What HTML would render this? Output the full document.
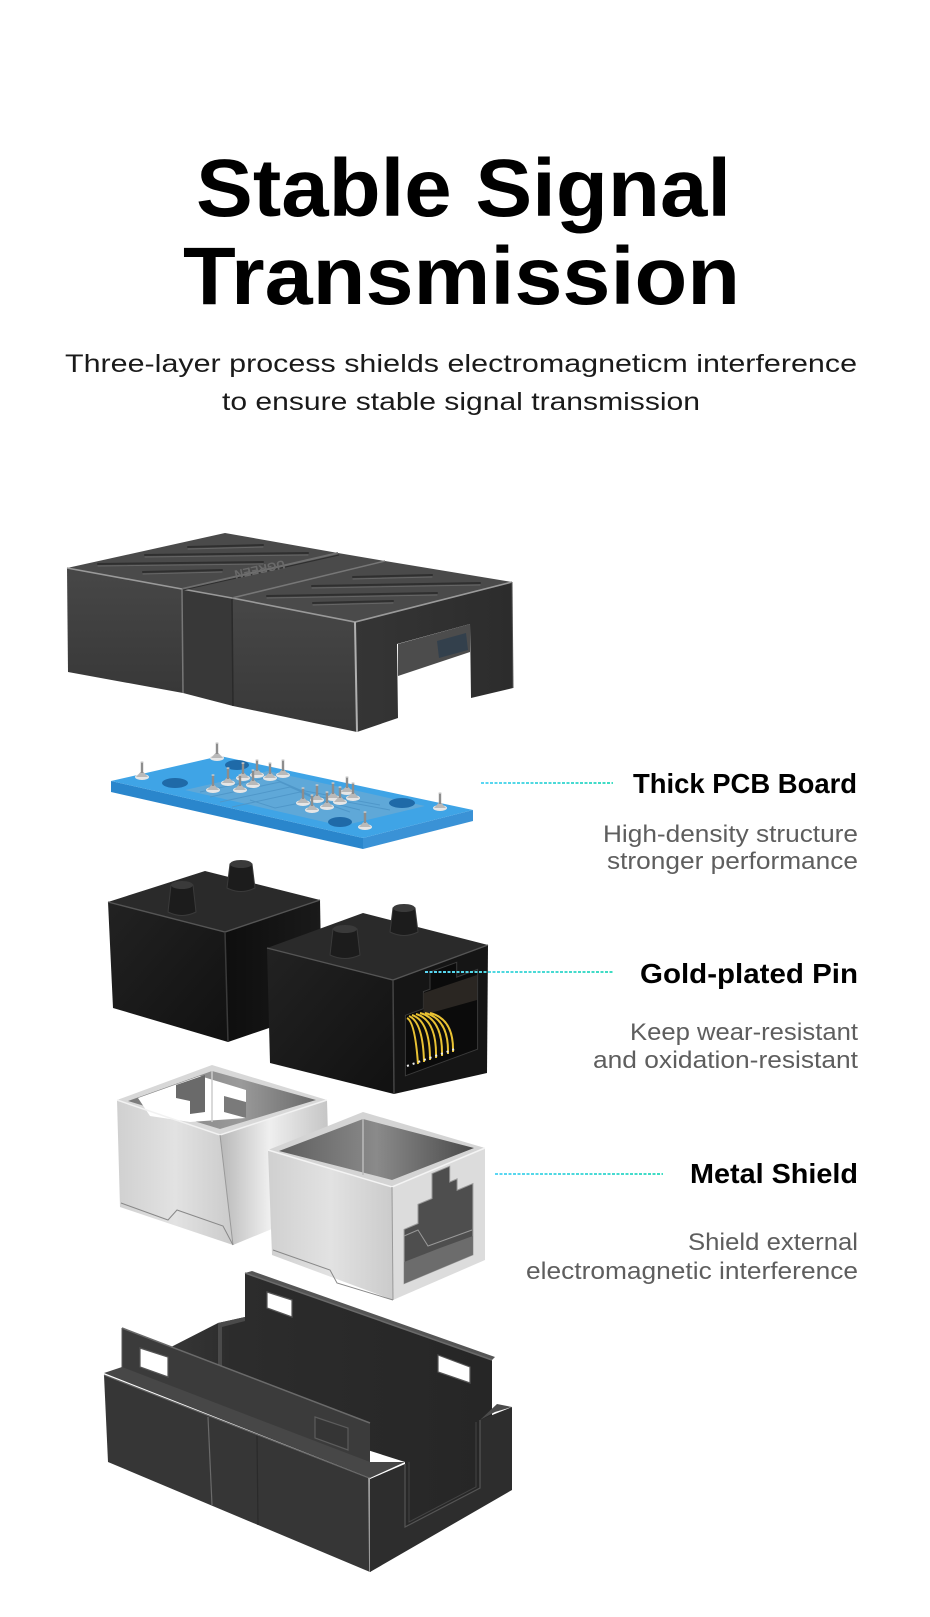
<!DOCTYPE html>
<html><head><meta charset="utf-8"><style>
html,body{margin:0;padding:0;background:#fff;}
svg{display:block;}
</style></head><body>
<svg width="930" height="1617" viewBox="0 0 930 1617" xmlns="http://www.w3.org/2000/svg">
<defs>
<linearGradient id="tcF" x1="0" y1="0" x2="0" y2="1"><stop offset="0" stop-color="#474747"/><stop offset="1" stop-color="#383838"/></linearGradient>
<linearGradient id="tcE" x1="0" y1="0" x2="1" y2="0"><stop offset="0" stop-color="#353535"/><stop offset="1" stop-color="#2c2c2c"/></linearGradient>
<linearGradient id="bkF" x1="0" y1="0" x2="1" y2="1"><stop offset="0" stop-color="#222"/><stop offset="1" stop-color="#111"/></linearGradient>
<linearGradient id="bkR" x1="0" y1="0" x2="1" y2="0"><stop offset="0" stop-color="#0e0e0e"/><stop offset="1" stop-color="#1a1a1a"/></linearGradient>
<linearGradient id="mL" x1="0" y1="0" x2="1" y2="0"><stop offset="0" stop-color="#d0d0d0"/><stop offset=".5" stop-color="#e2e2e2"/><stop offset="1" stop-color="#cbcbcb"/></linearGradient>
<linearGradient id="mR" x1="0" y1="0" x2="1" y2="0"><stop offset="0" stop-color="#b8b8b8"/><stop offset=".45" stop-color="#efefef"/><stop offset="1" stop-color="#c4c4c4"/></linearGradient>
<linearGradient id="mIn" x1="0" y1="0" x2="1" y2="0"><stop offset="0" stop-color="#7a7a7a"/><stop offset=".6" stop-color="#9a9a9a"/><stop offset="1" stop-color="#6a6a6a"/></linearGradient>
<linearGradient id="mIn2" x1="0" y1="0" x2="1" y2="0"><stop offset="0" stop-color="#5e5e5e"/><stop offset=".5" stop-color="#8a8a8a"/><stop offset="1" stop-color="#4a4a4a"/></linearGradient>
<linearGradient id="bcIn" x1="0" y1="0" x2="1" y2="0"><stop offset="0" stop-color="#3e3e3e"/><stop offset=".3" stop-color="#2c2c2c"/><stop offset="1" stop-color="#262626"/></linearGradient>
<linearGradient id="d1" gradientUnits="userSpaceOnUse" x1="481" y1="0" x2="613" y2="0"><stop offset="0" stop-color="#5ad6f4"/><stop offset="1" stop-color="#3edcc2"/></linearGradient>
<linearGradient id="d2" gradientUnits="userSpaceOnUse" x1="425" y1="0" x2="613" y2="0"><stop offset="0" stop-color="#5ad6f4"/><stop offset="1" stop-color="#3edcc2"/></linearGradient>
<linearGradient id="d3" gradientUnits="userSpaceOnUse" x1="495" y1="0" x2="663" y2="0"><stop offset="0" stop-color="#5ad6f4"/><stop offset="1" stop-color="#3edcc2"/></linearGradient>
<g id="pin">
<ellipse cx="0" cy="0" rx="7" ry="3" fill="#e6e6e6"/>
<path d="M-6,0 L-1.5,-5 L1.5,-5 L6,0 Z" fill="#b9b9b9"/>
<rect x="-1.2" y="-15" width="2.4" height="11" fill="#8d8d8d"/>
<ellipse cx="0" cy="-15" rx="1.6" ry="0.8" fill="#cfcfcf"/>
</g>
</defs>

<rect width="930" height="1617" fill="#fff"/>

<!-- Title -->
<text x="196" y="216" font-family="Liberation Sans, sans-serif" font-weight="bold" font-size="82" textLength="535" lengthAdjust="spacingAndGlyphs" fill="#000">Stable Signal</text>
<text x="183" y="304" font-family="Liberation Sans, sans-serif" font-weight="bold" font-size="82" textLength="557" lengthAdjust="spacingAndGlyphs" fill="#000">Transmission</text>
<text x="65" y="372" font-family="Liberation Sans, sans-serif" font-size="25" textLength="792" lengthAdjust="spacingAndGlyphs" fill="#1a1a1a">Three-layer process shields electromagneticm interference</text>
<text x="222" y="410" font-family="Liberation Sans, sans-serif" font-size="25" textLength="478" lengthAdjust="spacingAndGlyphs" fill="#1a1a1a">to ensure stable signal transmission</text>

<!-- ===== Top case ===== -->
<polygon points="67,568 225,533 338,553 385,561 512,582 355,622 232,598 182,589" fill="#4a4a4a"/>
<polygon points="67,568 182,589 183,693 68,672" fill="url(#tcF)"/>
<polygon points="182,589 232,598 233,706 183,693" fill="#383838"/>
<polygon points="232,598 355,622 357,732 233,706" fill="url(#tcF)"/>
<polygon points="355,622 512,582 513,688 471,698 470,624 397,644 398,718 357,732" fill="url(#tcE)"/>
<polygon points="398,644 470,624 470,652 398,676" fill="#4c4c4c"/>
<polygon points="437,641 466,633 468,650 439,658" fill="#33404c"/>
<polyline points="67,568 182,589 232,598 355,622 512,582" fill="none" stroke="#9a9a9a" stroke-width="1.6"/>
<line x1="182" y1="589" x2="338" y2="553" stroke="#6e6e6e" stroke-width="2"/>
<line x1="183" y1="590" x2="339" y2="555" stroke="#2e2e2e" stroke-width="1"/>
<line x1="232" y1="598" x2="385" y2="561" stroke="#777" stroke-width="1.5"/>
<line x1="182" y1="590" x2="183" y2="693" stroke="#777" stroke-width="1.5"/>
<line x1="232" y1="599" x2="233" y2="706" stroke="#2a2a2a" stroke-width="1.5"/>
<line x1="355" y1="622" x2="357" y2="732" stroke="#b0b0b0" stroke-width="2"/>
<line x1="512" y1="582" x2="513" y2="688" stroke="#555" stroke-width="1"/>
<g stroke="#2f2f2f" stroke-width="2" stroke-linecap="round">
<line x1="188" y1="547" x2="263" y2="545"/><line x1="145" y1="555" x2="308" y2="553"/>
<line x1="98" y1="564" x2="263" y2="562"/><line x1="143" y1="572" x2="222" y2="570"/>
<line x1="353" y1="577" x2="432" y2="575"/><line x1="312" y1="586" x2="480" y2="583"/>
<line x1="267" y1="596" x2="437" y2="593"/><line x1="313" y1="603" x2="393" y2="601"/>
</g>
<g stroke="#666" stroke-width="1" stroke-linecap="round">
<line x1="188" y1="549" x2="263" y2="547"/><line x1="145" y1="557" x2="308" y2="555"/>
<line x1="98" y1="566" x2="263" y2="564"/><line x1="143" y1="574" x2="222" y2="572"/>
<line x1="353" y1="579" x2="432" y2="577"/><line x1="312" y1="588" x2="480" y2="585"/>
<line x1="267" y1="598" x2="437" y2="595"/><line x1="313" y1="605" x2="393" y2="603"/>
</g>
<text x="0" y="0" transform="translate(284,560) rotate(168)" font-family="Liberation Sans, sans-serif" font-weight="bold" font-size="12" fill="#6a6a6a">UGREEN</text>

<!-- ===== PCB ===== -->
<polygon points="111,781 363,838 363,849 111,792" fill="#2a86cc"/>
<polygon points="363,838 473,810 473,821 363,849" fill="#3a92d6"/>
<polygon points="111,781 220,756 473,810 363,838" fill="#3fa4e6"/>
<polygon points="185,790 268,771 425,806 342,826" fill="#5fa8d8"/>
<g stroke="#4f97c9" stroke-width="1" fill="none">
<path d="M200,792 L270,777 L300,790 L380,805"/><path d="M210,797 L280,782 L310,795 L390,810"/>
<path d="M220,802 L290,787 L320,800 L360,810"/><path d="M232,807 L300,792 L330,805 L350,812"/>
<path d="M250,800 L275,808 L305,802"/>
</g>
<g fill="#1f6aa8">
<ellipse cx="175" cy="783" rx="13" ry="5"/><ellipse cx="237" cy="765" rx="12" ry="5"/>
<ellipse cx="402" cy="803" rx="13" ry="5"/><ellipse cx="340" cy="822" rx="12" ry="5"/>
</g>
<use href="#pin" x="142" y="777"/><use href="#pin" x="217" y="758"/>
<use href="#pin" x="440" y="808"/><use href="#pin" x="365" y="827"/>
<use href="#pin" x="257" y="775"/><use href="#pin" x="283" y="775"/>
<use href="#pin" x="243" y="778"/><use href="#pin" x="270" y="778"/>
<use href="#pin" x="228" y="783"/><use href="#pin" x="253" y="785"/>
<use href="#pin" x="213" y="790"/><use href="#pin" x="240" y="790"/>
<use href="#pin" x="347" y="792"/><use href="#pin" x="333" y="798"/>
<use href="#pin" x="353" y="798"/><use href="#pin" x="317" y="800"/>
<use href="#pin" x="340" y="802"/><use href="#pin" x="303" y="803"/>
<use href="#pin" x="327" y="807"/><use href="#pin" x="312" y="810"/>

<!-- ===== Black blocks ===== -->
<!-- left -->
<polygon points="108,902 225,932 228,1042 113,1008" fill="url(#bkF)"/>
<polygon points="225,932 320,900 322,1010 228,1042" fill="url(#bkR)"/>
<polygon points="108,902 205,871 320,900 225,932" fill="#2a2a2a"/>
<polyline points="108,902 225,932 320,900" fill="none" stroke="#555" stroke-width="1.4"/>
<line x1="225" y1="932" x2="228" y2="1042" stroke="#3a3a3a" stroke-width="1.5"/>
<path d="M168,912 L171,885 Q182,879 193,885 L196,912 Q182,919 168,912 Z" fill="#1c1c1c" stroke="#3a3a3a" stroke-width="1"/>
<ellipse cx="182" cy="885" rx="11" ry="4" fill="#3a3a3a"/>
<path d="M227,888 L230,864 Q241,858 252,864 L255,888 Q241,895 227,888 Z" fill="#1c1c1c" stroke="#3a3a3a" stroke-width="1"/>
<ellipse cx="241" cy="864" rx="11" ry="4" fill="#3a3a3a"/>
<!-- right -->
<polygon points="267,948 393,980 394,1094 270,1063" fill="url(#bkF)"/>
<polygon points="393,980 488,945 487,1073 394,1094" fill="#151515"/>
<polygon points="267,948 363,913 488,945 393,980" fill="#2a2a2a"/>
<polyline points="267,948 393,980 488,945" fill="none" stroke="#555" stroke-width="1.4"/>
<line x1="393" y1="980" x2="394" y2="1094" stroke="#444" stroke-width="1.5"/>
<polygon points="430,972 456.7,962.3 456.7,977.1 477.6,969.4 477.6,1049.2 405.4,1075.8 405.4,1015.3 423.4,1008.7 423.4,991.6 430,989.2" fill="#0b0b0b" stroke="#3a3a3a" stroke-width="1"/>
<polygon points="423.4,993 477,975 477,1000 423.4,1015" fill="#2a2622"/>
<g stroke="#e9c233" stroke-width="2" fill="none">
<path d="M407,1018 Q415,1022 418,1064"/><path d="M409,1016 Q423,1022 424,1062"/>
<path d="M412,1015 Q430,1021 430,1060"/><path d="M416,1014 Q437,1020 436,1058"/>
<path d="M420,1013 Q443,1019 442,1056"/><path d="M425,1013 Q449,1019 448,1054"/>
<path d="M430,1013 Q454,1019 453,1052"/>
</g>
<path d="M407,1066 L455,1049" stroke="#eee" stroke-width="2" stroke-dasharray="2 4"/>
<path d="M330,955 L333,929 Q345,923 357,929 L360,955 Q345,962 330,955 Z" fill="#1c1c1c" stroke="#3a3a3a" stroke-width="1"/>
<ellipse cx="345" cy="929" rx="12" ry="4" fill="#3a3a3a"/>
<path d="M390,932 L393,908 Q404,902 415,908 L418,932 Q404,939 390,932 Z" fill="#1c1c1c" stroke="#3a3a3a" stroke-width="1"/>
<ellipse cx="404" cy="908" rx="11" ry="4" fill="#3a3a3a"/>

<!-- ===== Metal shields ===== -->
<!-- left -->
<polygon points="117,1100 220,1135 233,1245 120,1207" fill="url(#mL)"/>
<polygon points="220,1135 327,1100 330,1205 233,1245" fill="url(#mR)"/>
<polygon points="117,1100 212,1065 327,1100 220,1135" fill="#d8d8d8"/>
<polygon points="128,1101 212,1071 316,1100 220,1129" fill="url(#mIn)"/>
<polygon points="138,1098 200,1076 246,1090 246,1118 190,1122 150,1116" fill="#fff"/>
<polygon points="176,1085 205,1075 205,1112 190,1114 190,1101 176,1098" fill="#6a6a6a"/>
<polygon points="224,1096 246,1102 246,1118 224,1112" fill="#7a7a7a"/>
<line x1="212" y1="1071" x2="212" y2="1122" stroke="#ccc" stroke-width="1.5"/>
<polyline points="117,1100 220,1135 327,1100" fill="none" stroke="#f2f2f2" stroke-width="1.5"/>
<line x1="220" y1="1135" x2="233" y2="1245" stroke="#999" stroke-width="1"/>
<polyline points="121,1203 168,1220 177,1210 223,1226 233,1245" fill="none" stroke="#888" stroke-width="1"/>
<!-- right -->
<polygon points="268,1150 392,1187 393,1300 272,1255" fill="url(#mL)"/>
<polygon points="392,1187 485,1148 485,1260 393,1300" fill="#dcdcdc"/>
<polygon points="268,1150 363,1112 485,1148 392,1187" fill="#d4d4d4"/>
<polygon points="279,1151 363,1119 474,1148 392,1180" fill="url(#mIn2)"/>
<line x1="363" y1="1119" x2="363" y2="1175" stroke="#bbb" stroke-width="1.5"/>
<polyline points="268,1150 392,1187 485,1148" fill="none" stroke="#f4f4f4" stroke-width="1.5"/>
<line x1="392" y1="1187" x2="393" y2="1300" stroke="#999" stroke-width="1"/>
<polygon points="432,1173.6 449.7,1166.2 449.7,1182 457.1,1178.9 457.1,1190.2 472.9,1183.6 472.9,1254.8 404.1,1283.6 404.1,1229.4 418,1223.5 418,1204.3 432,1198.5" fill="#4e4e4e" stroke="#999" stroke-width="1"/>
<polygon points="404.1,1262 440,1248 472.9,1236 472.9,1254.8 404.1,1283.6" fill="#6c6c6c"/>
<polyline points="404,1236 418,1230 428,1246 472,1230" fill="none" stroke="#999" stroke-width="1"/>
<polyline points="273,1250 330,1270 337,1283 393,1300" fill="none" stroke="#888" stroke-width="1"/>

<!-- ===== Bottom case ===== -->
<polygon points="218,1323 245,1317 245,1273 492,1360 492,1417 480,1421 480,1488 405,1527 405,1462 122,1372" fill="url(#bcIn)"/>
<polygon points="245,1273 252,1271 495,1357 492,1360" fill="#555"/>
<line x1="245" y1="1273" x2="492" y2="1360" stroke="#6a6a6a" stroke-width="1.5"/>
<polygon points="218,1323 245,1317 245,1321 222,1327 222,1367 218,1366" fill="#4a4a4a"/>
<polygon points="267,1292 292,1300 292,1317 267,1308" fill="#fff" stroke="#555" stroke-width="1.2"/>
<polygon points="438,1355 470,1367 470,1383 438,1372" fill="#fff" stroke="#555" stroke-width="1.2"/>
<!-- front wall -->
<polygon points="122,1328 370,1423 370,1468 122,1373" fill="#3b3b3b"/>
<line x1="122" y1="1328" x2="370" y2="1423" stroke="#6a6a6a" stroke-width="1.5"/>
<line x1="122" y1="1328" x2="122" y2="1370" stroke="#5a5a5a" stroke-width="1"/>
<polygon points="140,1348 168,1357 168,1377 140,1367" fill="#fff" stroke="#555" stroke-width="1.2"/>
<polygon points="315,1417 348,1428 348,1450 315,1438" fill="#353535" stroke="#5c5c5c" stroke-width="1.2"/>
<!-- ledge -->
<polygon points="104,1373 122,1367 370,1462 405,1462 370,1478" fill="#474747"/>
<!-- lower block front -->
<polygon points="104,1375 369,1478 370,1572 108,1462" fill="#363636"/>
<line x1="104" y1="1375" x2="369" y2="1478" stroke="#666" stroke-width="1.2"/>
<line x1="208" y1="1417" x2="212" y2="1505" stroke="#6a6a6a" stroke-width="1.2"/>
<line x1="257" y1="1436" x2="258" y2="1525" stroke="#2a2a2a" stroke-width="1.2"/>
<line x1="369" y1="1478" x2="370" y2="1572" stroke="#9a9a9a" stroke-width="1.8"/>
<!-- end face -->
<polygon points="370,1479 405,1464 405,1527 480,1488 480,1420 512,1407 512,1490 370,1572" fill="#2d2d2d"/>
<polygon points="480,1420 495,1412 512,1407 497,1404" fill="#4a4a4a"/>
<polyline points="405,1464 405,1527 480,1488 480,1420" fill="none" stroke="#555" stroke-width="1.2"/>
<polyline points="409,1462 409,1522 476,1487 476,1422" fill="none" stroke="#444" stroke-width="1"/>

<!-- ===== Callout lines ===== -->
<line x1="481" y1="783" x2="613" y2="783" stroke="url(#d1)" stroke-width="2" stroke-dasharray="3 1.5"/>
<line x1="425" y1="972" x2="613" y2="972" stroke="url(#d2)" stroke-width="2" stroke-dasharray="3 1.5"/>
<line x1="495" y1="1174" x2="663" y2="1174" stroke="url(#d3)" stroke-width="2" stroke-dasharray="3 1.5"/>

<!-- ===== Labels ===== -->
<g font-family="Liberation Sans, sans-serif">
<text x="633" y="793" font-weight="bold" font-size="28" textLength="224" lengthAdjust="spacingAndGlyphs" fill="#000">Thick PCB Board</text>
<text x="603" y="842" font-size="24" textLength="255" lengthAdjust="spacingAndGlyphs" fill="#5e5e5e">High-density structure</text>
<text x="607" y="869" font-size="24" textLength="251" lengthAdjust="spacingAndGlyphs" fill="#5e5e5e">stronger performance</text>

<text x="640" y="983" font-weight="bold" font-size="28" textLength="218" lengthAdjust="spacingAndGlyphs" fill="#000">Gold-plated Pin</text>
<text x="630" y="1040" font-size="24" textLength="228" lengthAdjust="spacingAndGlyphs" fill="#5e5e5e">Keep wear-resistant</text>
<text x="593" y="1068" font-size="24" textLength="265" lengthAdjust="spacingAndGlyphs" fill="#5e5e5e">and oxidation-resistant</text>

<text x="690" y="1183" font-weight="bold" font-size="28" textLength="168" lengthAdjust="spacingAndGlyphs" fill="#000">Metal Shield</text>
<text x="688" y="1250" font-size="24" textLength="170" lengthAdjust="spacingAndGlyphs" fill="#5e5e5e">Shield external</text>
<text x="526" y="1279" font-size="24" textLength="332" lengthAdjust="spacingAndGlyphs" fill="#5e5e5e">electromagnetic interference</text>
</g>
</svg>
</body></html>
